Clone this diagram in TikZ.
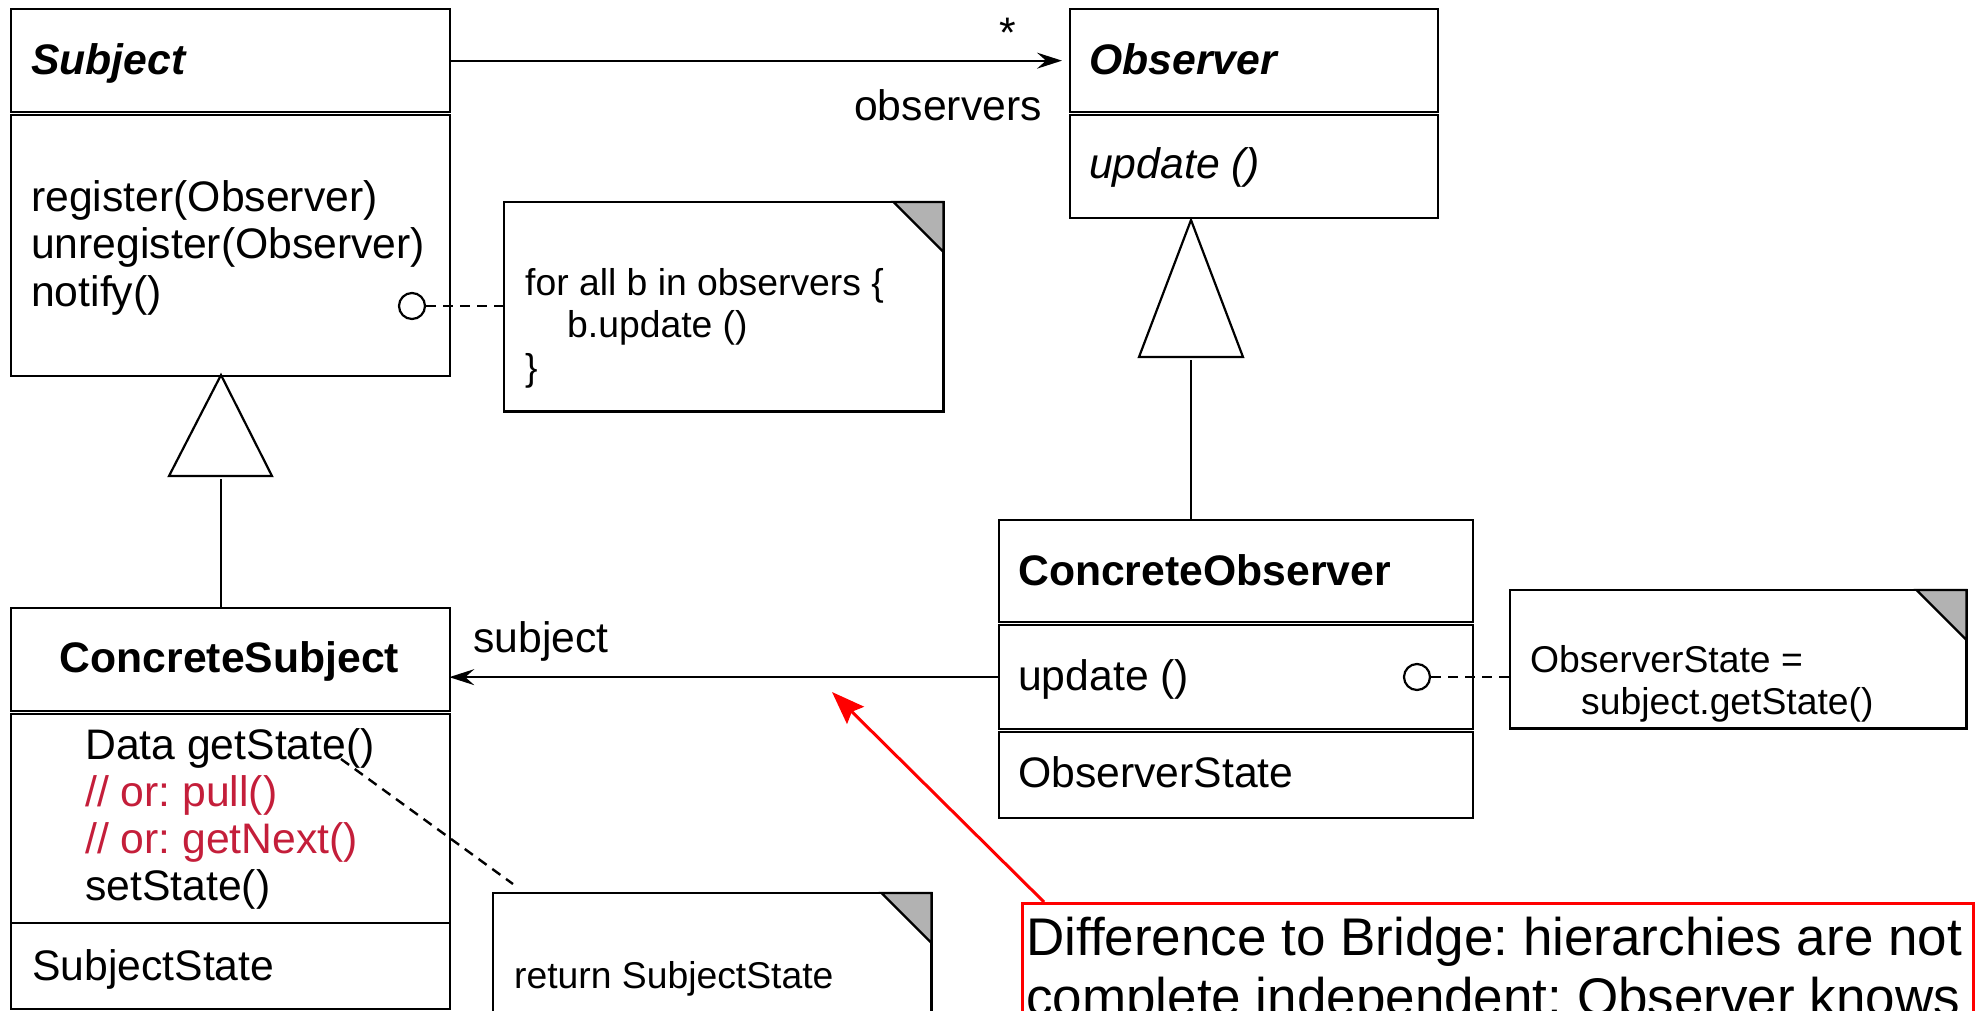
\documentclass[tikz,border=0pt]{standalone}
\usepackage{fontspec}
\setmainfont{Liberation Sans}
\usetikzlibrary{arrows.meta}
\definecolor{foldgray}{RGB}{178,178,178}
\definecolor{crim}{RGB}{196,30,58}
\newcommand\fmain{\fontsize{42.7pt}{48pt}\selectfont}
\newcommand\fnote{\fontsize{37.3pt}{42pt}\selectfont}
\newcommand\fred{\fontsize{53pt}{60pt}\selectfont}
\frenchspacing
\begin{document}
\begin{tikzpicture}[x=1pt,y=-1pt,
  box/.style={draw, line width=2.3pt, inner sep=0pt, anchor=north west},
  area/.style={inner sep=0pt, anchor=north west},
  txt/.style={inner sep=0pt, anchor=base west, font=\fmain},
  ntxt/.style={inner sep=0pt, anchor=base west, font=\fnote},
  rtxt/.style={inner sep=0pt, anchor=base west, font=\fred},
  assoc/.style={line width=2.2pt, -{Stealth[length=25pt,width=16pt,inset=9pt]}},
  gen/.style={line width=2.2pt, line join=miter},
  notedash/.style={line width=2.4pt, dash pattern=on 10pt off 7pt},
  knob/.style={circle, draw, line width=2.2pt, minimum size=26pt, inner sep=0pt},
  noteline/.style={line width=2.3pt, line join=miter},
]
\useasboundingbox (0,0) rectangle (1976,1010);

% ---------- Subject ----------
\node[box, minimum width=439pt, minimum height=103pt] (sH) at (10,8) {};
\node[box, minimum width=439pt, minimum height=261pt] (sB) at (10,114) {};
\node[txt, font=\fmain\bfseries\itshape] (sT) at (31,74) {Subject};
\node[txt] (s1) at (31,211) {register(Observer)};
\node[txt] (s2) at (31,258) {unregister(Observer)};
\node[txt] (s3) at (31,306) {notify()};
\node[knob] (k1) at (412,306) {};

% ---------- Observer ----------
\node[box, minimum width=368pt, minimum height=103pt] (oH) at (1069,8) {};
\node[box, minimum width=368pt, minimum height=103pt] (oB) at (1069,114) {};
\node[txt, font=\fmain\bfseries\itshape] (oT) at (1089,74) {Observer};
\node[txt, font=\fmain\itshape] (o1) at (1089,178) {update ()};

% observers association
\node[inner sep=0pt, anchor=base, font=\fmain] (star) at (1008,47) {*};
\node[txt] (obsl) at (854,120) {observers};
\draw[assoc, shorten >=7pt] (sH.east) -- (oH.west);

% ---------- Note 1 ----------
\node[area, minimum width=439pt, minimum height=209pt] (n1) at (504,202) {};
\draw[noteline] (n1.north west) rectangle (n1.south east);
\filldraw[noteline, fill=foldgray] ([xshift=-50pt]n1.north east) -- (n1.north east) -- ([yshift=-50pt]n1.north east) -- cycle;
\node[ntxt] (n1a) at (525,295) {for all b in observers \{};
\node[ntxt] (n1b) at (567,337) {b.update ()};
\node[ntxt] (n1c) at (525,380) {\}};
\draw[notedash] (k1.east) -- (n1.west |- k1.east);

% ---------- Observer generalisation ----------
\coordinate (ta2) at (1191,220);
\coordinate (tb2) at (1191,357);
\draw[gen] (ta2) -- (1243,357) -- (1139,357) -- cycle;

% ---------- ConcreteObserver ----------
\node[box, minimum width=474pt, minimum height=102pt] (coH) at (998,519) {};
\node[box, minimum width=474pt, minimum height=104pt] (coB) at (998,624) {};
\node[box, minimum width=474pt, minimum height=86pt] (coA) at (998,731) {};
\node[txt, font=\fmain\bfseries] (coT) at (1018,585) {ConcreteObserver};
\node[txt] (co1) at (1018,690) {update ()};
\node[txt] (co2) at (1018,787) {ObserverState};
\node[knob] (k2) at (1417,677) {};
\draw[gen] (coH.north -| tb2) -- ([yshift=-3pt]tb2);

% ---------- Note 3 ----------
\node[area, minimum width=456pt, minimum height=138pt] (n3) at (1510,590) {};
\draw[noteline] (n3.north west) rectangle (n3.south east);
\filldraw[noteline, fill=foldgray] ([xshift=-50pt]n3.north east) -- (n3.north east) -- ([yshift=-50pt]n3.north east) -- cycle;
\node[ntxt] (n3a) at (1530,672) {ObserverState =};
\node[ntxt] (n3b) at (1581,714) {subject.getState()};
\draw[notedash] (k2.east) -- (n3.west |- k2.east);

% ---------- Subject generalisation ----------
\coordinate (ta1) at (221,375);
\coordinate (tb1) at (221,476);
\draw[gen] (ta1) -- (272,476) -- (169,476) -- cycle;

% ---------- ConcreteSubject ----------
\node[box, minimum width=439pt, minimum height=103pt] (csH) at (10,607) {};
\node[box, minimum width=439pt, minimum height=209pt] (csB) at (10,713) {};
\node[box, minimum width=439pt, minimum height=86pt] (csA) at (10,922) {};
\node[inner sep=0pt, anchor=base, font=\fmain\bfseries] (csT) at (229.5,672) {ConcreteSubject};
\node[txt] (cs1) at (85,759) {Data getState()};
\node[txt, text=crim] (cs2) at (85,806) {// or: pull()};
\node[txt, text=crim] (cs3) at (85,853) {// or: getNext()};
\node[txt] (cs4) at (85,900) {setState()};
\node[txt] (cs5) at (32,980) {SubjectState};
\draw[gen] (csH.north -| tb1) -- ([yshift=-3pt]tb1);

% subject association
\node[txt] (subl) at (473,652) {subject};
\draw[assoc, shorten >=-2pt] (coB.west) -- (coB.west -| csH.east);

% ---------- Note 2 ----------
\node[area, minimum width=438pt, minimum height=200pt] (n2) at (493,893) {};
\draw[noteline] (n2.north west) rectangle (n2.south east);
\filldraw[noteline, fill=foldgray] ([xshift=-50pt]n2.north east) -- (n2.north east) -- ([yshift=-50pt]n2.north east) -- cycle;
\node[ntxt] (n2a) at (514,988) {return SubjectState};
\coordinate (gs) at (341,759);
\draw[notedash] (gs) -- ([xshift=20pt,yshift=9pt]n2.north west);

% ---------- Red remark ----------
\node[area, minimum width=951pt, minimum height=200pt, draw=red, line width=3pt] (rb) at (1021,902) {};
\node[rtxt] (r1) at (1026,955) {Difference to Bridge: hierarchies are not};
\node[rtxt] (r2) at (1026,1015) {complete independent: Observer knows};
\coordinate (rtip) at (832,692);
\draw[red, line width=3pt, -{Stealth[length=33pt,width=24pt,inset=5pt]}] ([xshift=23pt]rb.north west) -- (rtip);
\end{tikzpicture}
\end{document}
